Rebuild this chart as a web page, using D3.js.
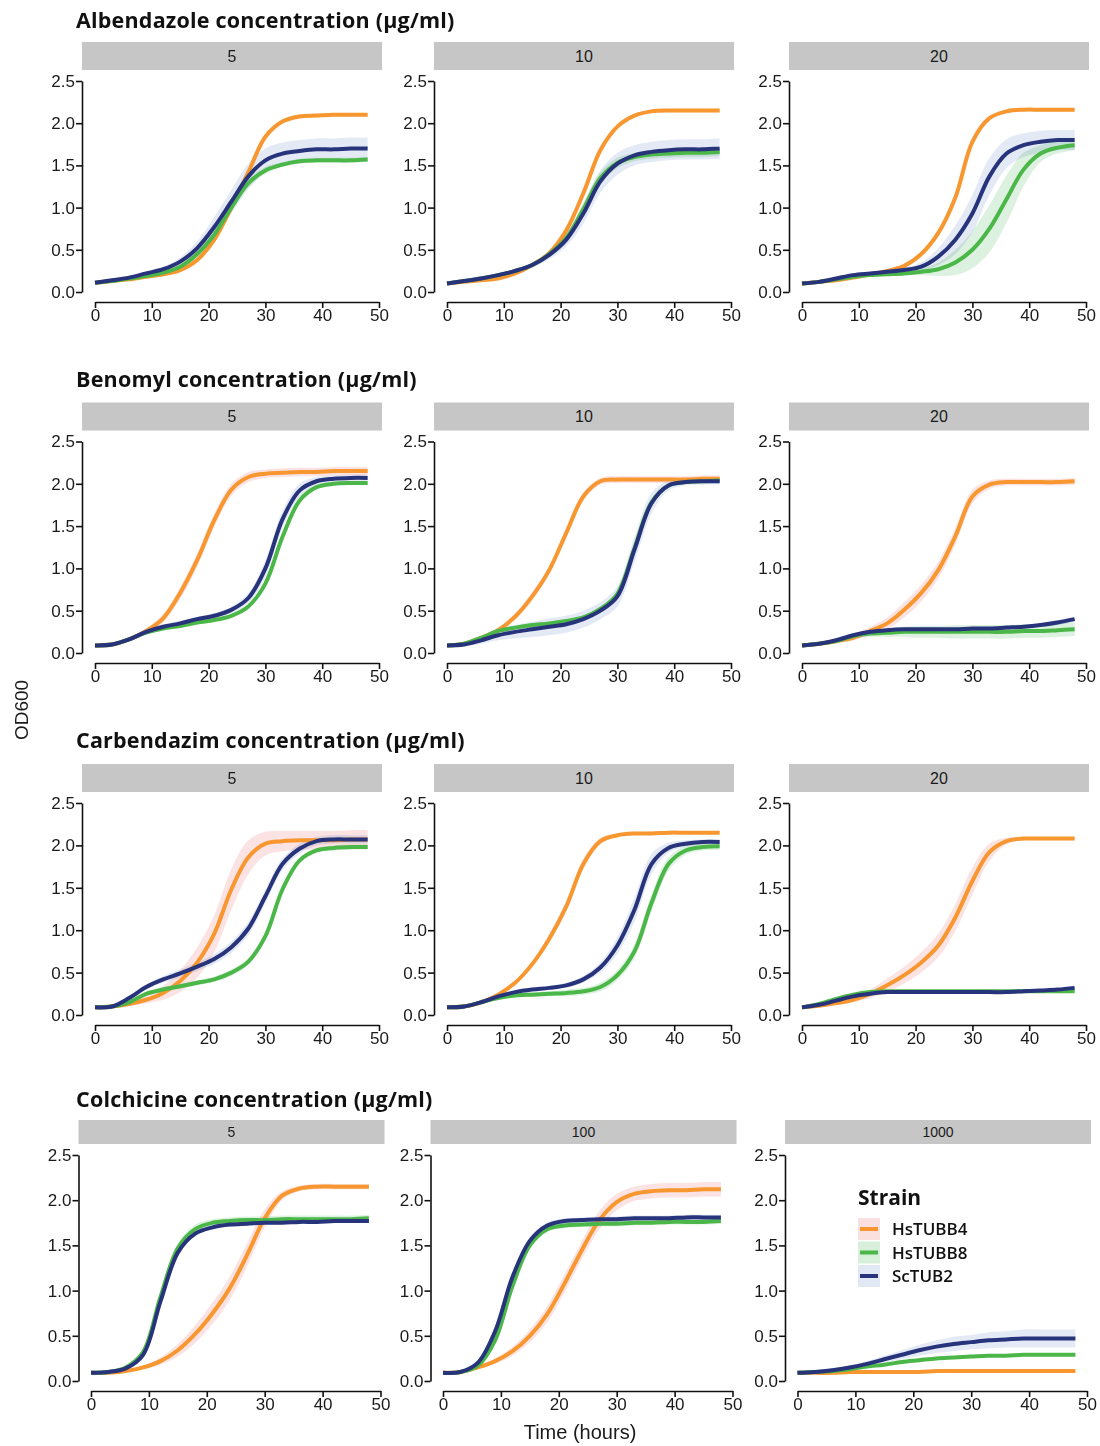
<!DOCTYPE html>
<html><head><meta charset="utf-8">
<script src="https://cdn.jsdelivr.net/npm/d3@7/dist/d3.min.js"></script>
<style>
body{margin:0;background:#fff;}
svg{display:block;}
</style></head>
<body><svg id="chart" width="1100" height="1446"></svg>
<script>
// ---------- data ----------
const hours = [0,3,6,9,12,15,18,21,24,27,30,33,36,39,42,45,48];
const strains = ["HsTUBB4","HsTUBB8","ScTUB2"];
const drugs = ["Albendazole","Benomyl","Carbendazim","Colchicine"];
const concentrations = [["5","10","20"],["5","10","20"],["5","10","20"],["5","100","1000"]];
const yTicks = [0,0.5,1,1.5,2,2.5];
const xTicks = [0,10,20,30,40,50];

// mean OD600 per strain: [HsTUBB4, HsTUBB8, ScTUB2]
const albendazole5 = [
 [0.11,0.13,0.15,0.18,0.21,0.26,0.38,0.62,1.00,1.42,1.84,2.02,2.08,2.09,2.10,2.10,2.10],
 [0.11,0.13,0.16,0.19,0.23,0.30,0.45,0.68,1.00,1.29,1.44,1.51,1.55,1.56,1.56,1.56,1.57],
 [0.11,0.14,0.17,0.22,0.27,0.36,0.52,0.77,1.07,1.37,1.56,1.64,1.67,1.69,1.69,1.70,1.70]];
const albendazole5_sd = [
 [0.01,0.01,0.01,0.01,0.02,0.02,0.02,0.03,0.03,0.03,0.02,0.02,0.02,0.02,0.02,0.02,0.02],
 [0.01,0.01,0.01,0.01,0.01,0.02,0.03,0.04,0.05,0.05,0.04,0.03,0.03,0.03,0.03,0.03,0.03],
 [0.01,0.01,0.02,0.02,0.03,0.05,0.08,0.12,0.14,0.15,0.14,0.13,0.13,0.13,0.13,0.13,0.13]];
const albendazole10 = [
 [0.10,0.12,0.14,0.16,0.22,0.32,0.46,0.73,1.17,1.68,1.96,2.09,2.14,2.15,2.15,2.15,2.15],
 [0.10,0.13,0.16,0.20,0.25,0.32,0.45,0.64,0.98,1.35,1.53,1.60,1.63,1.64,1.65,1.65,1.66],
 [0.10,0.13,0.16,0.20,0.25,0.32,0.44,0.62,0.93,1.31,1.52,1.62,1.66,1.68,1.69,1.69,1.70]];
const albendazole10_sd = [
 [0.01,0.01,0.01,0.01,0.02,0.02,0.02,0.03,0.03,0.03,0.02,0.02,0.02,0.02,0.02,0.02,0.02],
 [0.01,0.01,0.01,0.02,0.02,0.03,0.04,0.06,0.07,0.07,0.06,0.05,0.05,0.05,0.05,0.05,0.05],
 [0.01,0.01,0.01,0.02,0.02,0.03,0.05,0.08,0.12,0.13,0.13,0.12,0.12,0.12,0.12,0.12,0.12]];
const albendazole20 = [
 [0.10,0.12,0.14,0.17,0.21,0.25,0.31,0.45,0.70,1.12,1.78,2.06,2.14,2.16,2.16,2.16,2.16],
 [0.10,0.12,0.15,0.18,0.20,0.21,0.22,0.24,0.27,0.35,0.50,0.75,1.10,1.45,1.64,1.71,1.74],
 [0.10,0.12,0.16,0.20,0.22,0.24,0.26,0.30,0.42,0.62,0.93,1.37,1.64,1.74,1.78,1.80,1.80]];
const albendazole20_sd = [
 [0.01,0.01,0.01,0.01,0.01,0.02,0.02,0.03,0.04,0.05,0.04,0.02,0.02,0.02,0.02,0.02,0.02],
 [0.01,0.01,0.01,0.01,0.01,0.01,0.02,0.04,0.08,0.15,0.22,0.28,0.28,0.20,0.10,0.07,0.06],
 [0.01,0.01,0.01,0.01,0.02,0.02,0.03,0.05,0.10,0.17,0.22,0.22,0.17,0.14,0.13,0.12,0.12]];

const benomyl5 = [
 [0.09,0.10,0.16,0.26,0.41,0.71,1.10,1.57,1.93,2.08,2.12,2.13,2.14,2.14,2.15,2.15,2.15],
 [0.09,0.10,0.16,0.24,0.29,0.32,0.36,0.39,0.44,0.55,0.82,1.37,1.80,1.96,2.00,2.01,2.01],
 [0.09,0.10,0.16,0.25,0.31,0.35,0.40,0.44,0.51,0.65,1.00,1.58,1.92,2.03,2.06,2.07,2.07]];
const benomyl5_sd = [
 [0.01,0.01,0.02,0.03,0.05,0.07,0.08,0.08,0.07,0.06,0.05,0.05,0.05,0.05,0.05,0.05,0.05],
 [0.01,0.01,0.01,0.02,0.02,0.02,0.02,0.02,0.02,0.02,0.03,0.03,0.03,0.02,0.02,0.02,0.02],
 [0.01,0.01,0.02,0.02,0.03,0.03,0.03,0.03,0.04,0.06,0.10,0.10,0.08,0.05,0.04,0.04,0.04]];
const benomyl10 = [
 [0.09,0.11,0.18,0.27,0.43,0.67,0.98,1.42,1.85,2.03,2.05,2.05,2.05,2.05,2.05,2.06,2.06],
 [0.09,0.11,0.18,0.26,0.30,0.33,0.35,0.38,0.42,0.52,0.70,1.24,1.78,1.98,2.02,2.03,2.04],
 [0.09,0.10,0.15,0.21,0.25,0.28,0.31,0.34,0.40,0.50,0.67,1.22,1.77,1.98,2.02,2.03,2.03]];
const benomyl10_sd = [
 [0.01,0.01,0.02,0.03,0.04,0.05,0.05,0.05,0.05,0.04,0.04,0.04,0.04,0.04,0.04,0.04,0.04],
 [0.01,0.01,0.02,0.02,0.02,0.02,0.02,0.02,0.02,0.02,0.03,0.03,0.03,0.02,0.02,0.02,0.02],
 [0.01,0.02,0.04,0.06,0.08,0.09,0.10,0.10,0.10,0.10,0.12,0.15,0.12,0.06,0.04,0.04,0.04]];
const benomyl20 = [
 [0.09,0.11,0.14,0.18,0.26,0.35,0.51,0.71,0.98,1.38,1.85,1.99,2.02,2.02,2.02,2.02,2.03],
 [0.09,0.11,0.14,0.20,0.23,0.24,0.25,0.25,0.25,0.25,0.25,0.25,0.25,0.26,0.26,0.27,0.28],
 [0.09,0.11,0.15,0.21,0.25,0.27,0.28,0.28,0.28,0.28,0.29,0.29,0.30,0.31,0.33,0.36,0.40]];
const benomyl20_sd = [
 [0.01,0.01,0.02,0.03,0.05,0.07,0.09,0.10,0.10,0.10,0.08,0.05,0.04,0.04,0.04,0.04,0.04],
 [0.01,0.01,0.02,0.03,0.04,0.05,0.06,0.07,0.07,0.08,0.08,0.08,0.08,0.08,0.08,0.08,0.08],
 [0.01,0.01,0.01,0.02,0.02,0.02,0.02,0.02,0.02,0.02,0.02,0.02,0.02,0.02,0.02,0.03,0.03]];

const carbendazim5 = [
 [0.09,0.10,0.13,0.18,0.26,0.40,0.62,0.96,1.48,1.86,2.02,2.05,2.06,2.06,2.06,2.07,2.07],
 [0.09,0.10,0.15,0.25,0.30,0.34,0.38,0.42,0.50,0.63,0.93,1.48,1.82,1.94,1.97,1.98,1.98],
 [0.09,0.10,0.20,0.33,0.42,0.49,0.57,0.66,0.80,1.02,1.40,1.78,1.96,2.05,2.07,2.07,2.07]];
const carbendazim5_sd = [
 [0.01,0.01,0.02,0.04,0.08,0.13,0.18,0.22,0.24,0.20,0.14,0.12,0.11,0.11,0.11,0.11,0.11],
 [0.01,0.01,0.02,0.02,0.03,0.03,0.03,0.03,0.04,0.04,0.04,0.04,0.03,0.03,0.03,0.03,0.03],
 [0.01,0.01,0.02,0.03,0.04,0.05,0.05,0.06,0.07,0.08,0.08,0.07,0.06,0.05,0.05,0.05,0.05]];
const carbendazim10 = [
 [0.09,0.10,0.15,0.24,0.38,0.60,0.90,1.28,1.78,2.05,2.12,2.14,2.14,2.15,2.15,2.15,2.15],
 [0.09,0.10,0.15,0.20,0.23,0.24,0.25,0.26,0.28,0.33,0.47,0.75,1.32,1.78,1.94,1.98,1.99],
 [0.09,0.10,0.15,0.22,0.27,0.30,0.32,0.35,0.42,0.56,0.82,1.24,1.78,1.97,2.02,2.04,2.04]];
const carbendazim10_sd = [
 [0.01,0.01,0.01,0.02,0.02,0.03,0.05,0.06,0.06,0.04,0.02,0.02,0.02,0.02,0.02,0.02,0.02],
 [0.01,0.01,0.01,0.02,0.02,0.03,0.03,0.04,0.04,0.05,0.06,0.08,0.10,0.08,0.05,0.04,0.04],
 [0.01,0.01,0.01,0.02,0.02,0.02,0.02,0.03,0.04,0.06,0.10,0.14,0.12,0.06,0.04,0.03,0.03]];
const carbendazim20 = [
 [0.09,0.11,0.14,0.18,0.25,0.35,0.47,0.62,0.82,1.15,1.58,1.92,2.05,2.08,2.08,2.08,2.08],
 [0.09,0.13,0.19,0.24,0.27,0.28,0.28,0.28,0.28,0.28,0.28,0.28,0.28,0.28,0.28,0.28,0.28],
 [0.09,0.12,0.17,0.22,0.25,0.27,0.27,0.27,0.27,0.27,0.27,0.27,0.27,0.28,0.29,0.30,0.32]];
const carbendazim20_sd = [
 [0.01,0.01,0.02,0.03,0.05,0.08,0.10,0.12,0.14,0.16,0.16,0.10,0.04,0.02,0.02,0.02,0.02],
 [0.01,0.01,0.01,0.01,0.01,0.01,0.01,0.01,0.01,0.01,0.01,0.01,0.01,0.01,0.01,0.01,0.01],
 [0.01,0.01,0.01,0.01,0.01,0.01,0.01,0.01,0.01,0.01,0.01,0.01,0.01,0.01,0.01,0.01,0.01]];

const colchicine5 = [
 [0.09,0.09,0.11,0.15,0.22,0.34,0.52,0.75,1.03,1.40,1.80,2.05,2.13,2.15,2.15,2.15,2.15],
 [0.09,0.10,0.15,0.32,0.93,1.47,1.68,1.75,1.77,1.78,1.78,1.79,1.79,1.79,1.79,1.79,1.80],
 [0.09,0.10,0.14,0.29,0.88,1.42,1.63,1.70,1.73,1.74,1.75,1.75,1.76,1.76,1.77,1.77,1.77]];
const colchicine5_sd = [
 [0.01,0.01,0.01,0.02,0.04,0.07,0.10,0.12,0.13,0.13,0.10,0.05,0.03,0.03,0.03,0.03,0.03],
 [0.01,0.01,0.01,0.02,0.04,0.05,0.05,0.04,0.04,0.04,0.04,0.04,0.04,0.04,0.04,0.04,0.04],
 [0.01,0.01,0.01,0.02,0.02,0.02,0.02,0.02,0.02,0.02,0.02,0.02,0.02,0.02,0.02,0.02,0.02]];
const colchicine100 = [
 [0.09,0.10,0.15,0.22,0.33,0.50,0.74,1.08,1.45,1.78,1.98,2.07,2.10,2.11,2.11,2.12,2.12],
 [0.09,0.10,0.17,0.45,1.05,1.50,1.68,1.72,1.73,1.74,1.74,1.75,1.75,1.76,1.76,1.76,1.77],
 [0.09,0.10,0.20,0.55,1.15,1.55,1.72,1.77,1.78,1.79,1.79,1.80,1.80,1.80,1.81,1.81,1.81]];
const colchicine100_sd = [
 [0.01,0.01,0.02,0.03,0.05,0.07,0.09,0.10,0.10,0.10,0.09,0.08,0.08,0.08,0.08,0.08,0.08],
 [0.01,0.01,0.02,0.03,0.04,0.04,0.03,0.03,0.03,0.03,0.03,0.03,0.03,0.03,0.03,0.03,0.03],
 [0.01,0.01,0.02,0.03,0.04,0.04,0.03,0.03,0.03,0.03,0.03,0.03,0.03,0.03,0.03,0.03,0.03]];
const colchicine1000 = [
 [0.09,0.09,0.09,0.10,0.10,0.10,0.10,0.10,0.11,0.11,0.11,0.11,0.11,0.11,0.11,0.11,0.11],
 [0.09,0.10,0.11,0.13,0.16,0.18,0.21,0.23,0.25,0.26,0.27,0.28,0.28,0.29,0.29,0.29,0.29],
 [0.09,0.10,0.12,0.15,0.19,0.24,0.29,0.34,0.38,0.41,0.43,0.45,0.46,0.47,0.47,0.47,0.47]];
const colchicine1000_sd = [
 [0.01,0.01,0.01,0.01,0.01,0.01,0.01,0.01,0.01,0.01,0.01,0.01,0.01,0.01,0.01,0.01,0.01],
 [0.01,0.01,0.01,0.01,0.01,0.01,0.01,0.01,0.01,0.01,0.01,0.01,0.01,0.01,0.01,0.01,0.01],
 [0.01,0.01,0.02,0.02,0.03,0.04,0.05,0.06,0.07,0.08,0.08,0.09,0.09,0.10,0.10,0.10,0.10]];

const panelMeans = [
 [albendazole5, albendazole10, albendazole20],
 [benomyl5, benomyl10, benomyl20],
 [carbendazim5, carbendazim10, carbendazim20],
 [colchicine5, colchicine100, colchicine1000]];
const panelSds = [
 [albendazole5_sd, albendazole10_sd, albendazole20_sd],
 [benomyl5_sd, benomyl10_sd, benomyl20_sd],
 [carbendazim5_sd, carbendazim10_sd, carbendazim20_sd],
 [colchicine5_sd, colchicine100_sd, colchicine1000_sd]];

// ---------- style / layout ----------
const lineColors = ["#f8962f","#4cb749","#27337a"];
const ribbonColors = ["#fbe0e0","#d8f0db","#e1e8f4"];
const tickFont = "'Liberation Sans', Arial, sans-serif";
const titleFont = "'Open Sans', 'Noto Sans', sans-serif";

const rowLayout = [
 {title:28,   top:81,   bottom:292,  axisX:[82,434,789],      stripH:28, stripW:300, xPad:[13,297], stripFont:16},
 {title:387,  top:441.5,bottom:653,  axisX:[82,434,789],      stripH:28, stripW:300, xPad:[13,297], stripFont:16},
 {title:748,  top:803,  bottom:1015, axisX:[82,434,789],      stripH:28, stripW:300, xPad:[13,297], stripFont:16},
 {title:1107, top:1155, bottom:1381, axisX:[78.5,430.5,785],  stripH:24, stripW:306, xPad:[12.5,302], stripFont:14}];

const svg = d3.select("#chart");
const curve = d3.curveCatmullRom.alpha(0.5);

rowLayout.forEach((L, r) => {
  svg.append("text")
    .attr("x", 76).attr("y", L.title)
    .attr("font-family", titleFont).attr("font-weight", 700)
    .attr("font-size", 21.5).attr("letter-spacing", 0.2).attr("fill", "#111")
    .text(drugs[r] + " concentration (µg/ml)");

  for (let c = 0; c < 3; c++) {
    const ax = L.axisX[c];
    const g = svg.append("g");
    // strip
    g.append("rect")
      .attr("x", ax).attr("y", L.top - 11 - L.stripH)
      .attr("width", L.stripW).attr("height", L.stripH)
      .attr("fill", "#c6c6c6");
    g.append("text")
      .attr("x", ax + L.stripW / 2).attr("y", L.top - 11 - L.stripH / 2)
      .attr("dy", "0.35em").attr("text-anchor", "middle")
      .attr("font-family", tickFont).attr("font-size", L.stripFont).attr("fill", "#1a1a1a")
      .text(concentrations[r][c]);

    const x = d3.scaleLinear().domain([0, 50]).range([ax + L.xPad[0], ax + L.xPad[1]]);
    const y = d3.scaleLinear().domain([0, 2.5]).range([L.bottom, L.top]);

    const means = panelMeans[r][c], sds = panelSds[r][c];
    const area = d3.area().curve(curve)
      .x((d, i) => x(hours[i]))
      .y0(d => y(d[0] - d[1]))
      .y1(d => y(d[0] + d[1]));
    const line = d3.line().curve(curve)
      .x((d, i) => x(hours[i])).y(d => y(d));

    [0, 1, 2].forEach(s => {
      g.append("path")
        .datum(means[s].map((m, i) => [m, sds[s][i]]))
        .attr("d", area)
        .attr("fill", ribbonColors[s]).attr("fill-opacity", 0.9)
        .style("mix-blend-mode", "multiply");
    });
    [0, 1, 2].forEach(s => {
      g.append("path")
        .datum(means[s])
        .attr("d", line)
        .attr("fill", "none").attr("stroke", lineColors[s])
        .attr("stroke-width", 4);
    });

    const yAxis = g.append("g").attr("transform", `translate(${ax},0)`)
      .call(d3.axisLeft(y).tickValues(yTicks).tickFormat(d3.format(".1f")).tickSize(6).tickSizeOuter(0).tickPadding(1));
    const xAxis = g.append("g").attr("transform", `translate(0,${L.bottom + 10})`)
      .call(d3.axisBottom(x).tickValues(xTicks).tickFormat(d3.format("d")).tickSize(6).tickSizeOuter(0).tickPadding(1));
    [yAxis, xAxis].forEach(a => {
      a.selectAll("path, line").attr("stroke", "#111").attr("stroke-width", 1.6);
      a.selectAll("text").attr("font-family", tickFont).attr("font-size", 17).attr("fill", "#1a1a1a");
    });
  }
});

// axis titles
svg.append("text")
  .attr("transform", "translate(28,710) rotate(-90)")
  .attr("text-anchor", "middle")
  .attr("font-family", tickFont).attr("font-size", 19).attr("fill", "#1a1a1a")
  .text("OD600");
svg.append("text")
  .attr("x", 580).attr("y", 1439).attr("text-anchor", "middle")
  .attr("font-family", tickFont).attr("font-size", 20).attr("fill", "#1a1a1a")
  .text("Time (hours)");

// legend
const leg = svg.append("g").attr("transform", "translate(858,1205)");
leg.append("text").attr("x", 0).attr("y", 0)
  .attr("font-family", titleFont).attr("font-weight", 700).attr("font-size", 21).attr("fill", "#111")
  .text("Strain");
strains.forEach((s, i) => {
  const gy = 13 + i * 23.5;
  leg.append("rect").attr("x", 0).attr("y", gy).attr("width", 22).attr("height", 22)
    .attr("fill", ribbonColors[i]);
  leg.append("line").attr("x1", 2).attr("x2", 20).attr("y1", gy + 11).attr("y2", gy + 11)
    .attr("stroke", lineColors[i]).attr("stroke-width", 4);
  leg.append("text").attr("x", 34).attr("y", gy + 11).attr("dy", "0.36em")
    .attr("font-family", titleFont).attr("font-weight", 600).attr("font-size", 17).attr("fill", "#111")
    .text(s);
});
</script>
</body></html>
